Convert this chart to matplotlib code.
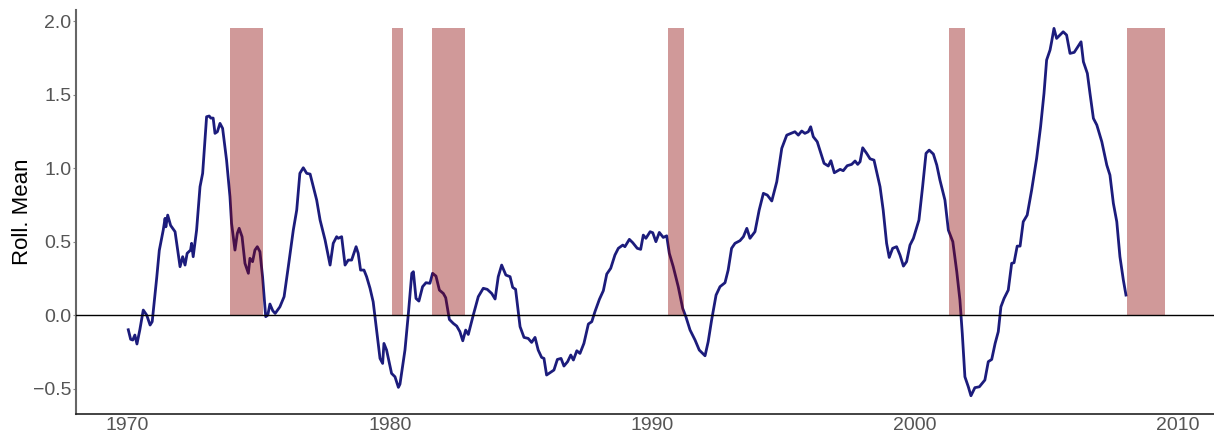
import numpy as np
import matplotlib
matplotlib.use("Agg")
from matplotlib import pyplot as plt

# rolling mean (decimal year, value)
years = [
    1970.05, 1970.14, 1970.22, 1970.30, 1970.38, 1970.49, 1970.62, 1970.75, 1970.88, 1970.96,
    1971.07, 1971.13, 1971.23, 1971.38, 1971.45, 1971.48, 1971.55, 1971.66, 1971.83, 1971.91,
    1972.02, 1972.12, 1972.21, 1972.29, 1972.42, 1972.46, 1972.52, 1972.65, 1972.78, 1972.88,
    1972.97, 1973.03, 1973.13, 1973.19, 1973.28, 1973.35, 1973.44, 1973.54, 1973.64, 1973.79,
    1973.92, 1973.98, 1974.11, 1974.20, 1974.27, 1974.38, 1974.49, 1974.62, 1974.68, 1974.78,
    1974.87, 1974.96, 1975.06, 1975.16, 1975.28, 1975.36, 1975.44, 1975.55, 1975.64, 1975.82,
    1975.98, 1976.14, 1976.33, 1976.46, 1976.58, 1976.71, 1976.84, 1976.97, 1977.09, 1977.22,
    1977.35, 1977.54, 1977.73, 1977.85, 1977.98, 1978.04, 1978.17, 1978.30, 1978.42, 1978.55,
    1978.72, 1978.80, 1978.89, 1979.02, 1979.12, 1979.25, 1979.37, 1979.50, 1979.63, 1979.73,
    1979.78, 1979.88, 1980.07, 1980.20, 1980.33, 1980.39, 1980.58, 1980.71, 1980.84, 1980.90,
    1981.00, 1981.11, 1981.25, 1981.38, 1981.53, 1981.63, 1981.76, 1981.89, 1982.04, 1982.13,
    1982.27, 1982.42, 1982.55, 1982.67, 1982.78, 1982.89, 1982.99, 1983.18, 1983.37, 1983.56,
    1983.71, 1983.88, 1984.01, 1984.13, 1984.26, 1984.42, 1984.58, 1984.68, 1984.79, 1984.96,
    1985.11, 1985.27, 1985.40, 1985.53, 1985.65, 1985.78, 1985.87, 1985.97, 1986.10, 1986.25,
    1986.38, 1986.52, 1986.63, 1986.77, 1986.89, 1986.99, 1987.12, 1987.24, 1987.39, 1987.56,
    1987.69, 1987.81, 1987.98, 1988.13, 1988.26, 1988.41, 1988.57, 1988.70, 1988.87, 1988.95,
    1989.12, 1989.25, 1989.42, 1989.55, 1989.65, 1989.75, 1989.91, 1990.01, 1990.13, 1990.26,
    1990.41, 1990.54, 1990.64, 1990.79, 1990.98, 1991.15, 1991.27, 1991.43, 1991.62, 1991.78,
    1992.00, 1992.12, 1992.25, 1992.42, 1992.57, 1992.76, 1992.88, 1993.01, 1993.14, 1993.33,
    1993.46, 1993.59, 1993.71, 1993.90, 1994.06, 1994.22, 1994.37, 1994.54, 1994.73, 1994.92,
    1995.11, 1995.42, 1995.55, 1995.68, 1995.80, 1995.93, 1996.02, 1996.12, 1996.27, 1996.53,
    1996.69, 1996.79, 1996.92, 1997.14, 1997.26, 1997.41, 1997.58, 1997.71, 1997.81, 1997.90,
    1998.00, 1998.15, 1998.28, 1998.43, 1998.66, 1998.78, 1998.91, 1999.01, 1999.14, 1999.29,
    1999.42, 1999.55, 1999.67, 1999.80, 1999.93, 2000.14, 2000.28, 2000.41, 2000.53, 2000.69,
    2000.82, 2000.94, 2001.13, 2001.26, 2001.43, 2001.58, 2001.70, 2001.79, 2001.89, 2002.02,
    2002.12, 2002.27, 2002.44, 2002.65, 2002.78, 2002.91, 2003.04, 2003.16, 2003.26, 2003.38,
    2003.54, 2003.67, 2003.76, 2003.88, 2003.99, 2004.11, 2004.26, 2004.43, 2004.62, 2004.77,
    2004.90, 2005.00, 2005.13, 2005.19, 2005.28, 2005.38, 2005.51, 2005.63, 2005.76, 2005.89,
    2006.05, 2006.31, 2006.40, 2006.55, 2006.65, 2006.78, 2006.91, 2007.10, 2007.29, 2007.41,
    2007.54, 2007.67, 2007.79, 2007.92, 2008.02,
]
roll_mean = [
    -0.100, -0.165, -0.170, -0.136, -0.197, -0.100, 0.034, 0.000, -0.068, -0.045,
    0.147, 0.250, 0.440, 0.578, 0.658, 0.600, 0.680, 0.610, 0.567, 0.465,
    0.329, 0.397, 0.340, 0.420, 0.442, 0.488, 0.397, 0.578, 0.873, 0.964,
    1.190, 1.349, 1.354, 1.340, 1.340, 1.236, 1.247, 1.304, 1.270, 1.054,
    0.805, 0.624, 0.442, 0.556, 0.590, 0.533, 0.352, 0.284, 0.386, 0.363,
    0.442, 0.465, 0.431, 0.261, -0.011, 0.000, 0.075, 0.029, 0.011, 0.056,
    0.125, 0.329, 0.578, 0.714, 0.964, 1.002, 0.964, 0.959, 0.873, 0.782,
    0.646, 0.510, 0.340, 0.488, 0.533, 0.522, 0.533, 0.340, 0.374, 0.374,
    0.465, 0.420, 0.306, 0.306, 0.261, 0.182, 0.090, -0.102, -0.295, -0.329,
    -0.193, -0.238, -0.397, -0.420, -0.492, -0.470, -0.238, 0.011, 0.284, 0.295,
    0.113, 0.095, 0.193, 0.220, 0.216, 0.284, 0.265, 0.170, 0.147, 0.118,
    -0.030, -0.057, -0.075, -0.113, -0.175, -0.102, -0.132, 0.000, 0.125, 0.182,
    0.175, 0.147, 0.109, 0.261, 0.340, 0.272, 0.261, 0.188, 0.175, -0.079,
    -0.152, -0.159, -0.186, -0.152, -0.238, -0.288, -0.295, -0.408, -0.392, -0.374,
    -0.302, -0.295, -0.347, -0.317, -0.272, -0.306, -0.243, -0.261, -0.193, -0.061,
    -0.045, 0.023, 0.107, 0.166, 0.279, 0.318, 0.408, 0.454, 0.476, 0.465,
    0.515, 0.492, 0.454, 0.447, 0.544, 0.522, 0.567, 0.560, 0.499, 0.562,
    0.528, 0.539, 0.420, 0.329, 0.193, 0.045, -0.011, -0.102, -0.170, -0.238,
    -0.277, -0.181, -0.034, 0.136, 0.193, 0.220, 0.306, 0.454, 0.488, 0.506,
    0.533, 0.590, 0.522, 0.567, 0.714, 0.828, 0.816, 0.776, 0.907, 1.134,
    1.224, 1.247, 1.224, 1.252, 1.236, 1.247, 1.281, 1.213, 1.179, 1.032,
    1.014, 1.050, 0.968, 0.991, 0.982, 1.016, 1.025, 1.048, 1.025, 1.043,
    1.138, 1.100, 1.063, 1.054, 0.873, 0.714, 0.488, 0.392, 0.454, 0.465,
    0.408, 0.333, 0.363, 0.476, 0.522, 0.646, 0.873, 1.100, 1.122, 1.095,
    1.020, 0.918, 0.782, 0.578, 0.499, 0.295, 0.102, -0.125, -0.420, -0.488,
    -0.549, -0.494, -0.488, -0.442, -0.317, -0.302, -0.193, -0.113, 0.056, 0.113,
    0.170, 0.352, 0.356, 0.469, 0.469, 0.635, 0.680, 0.850, 1.066, 1.281,
    1.508, 1.735, 1.803, 1.859, 1.950, 1.882, 1.905, 1.927, 1.905, 1.780,
    1.787, 1.859, 1.723, 1.644, 1.508, 1.338, 1.293, 1.179, 1.020, 0.952,
    0.760, 0.635, 0.397, 0.238, 0.136,
]

# recession periods (start, end)
rec_start = [1973.92, 1980.09, 1981.61, 1990.59, 2001.28, 2008.06]
rec_end = [1975.18, 1980.50, 1982.86, 1991.20, 2001.89, 2009.51]
rec_height = 1.95

plt.rcParams['font.family'] = ['Liberation Sans', 'DejaVu Sans']

fig = plt.figure(figsize=(12.14, 4.36), dpi=100)
ax = fig.add_axes([0.0626, 0.0505, 0.9374, 0.9265])

ax.plot(years, roll_mean, color='#1c1c7c', lw=2, zorder=2)
ax.bar(rec_start, rec_height, width=np.array(rec_end) - np.array(rec_start),
       bottom=0, align='edge', color='darkred', alpha=0.4, lw=0, zorder=3)
ax.axhline(0, color='black', lw=1, zorder=4)

ax.set_xlim(1968.06, 2011.37)
ax.set_ylim(-0.673, 2.075)
ax.set_xticks([1970, 1980, 1990, 2000, 2010])
ax.set_yticks([-0.5, 0.0, 0.5, 1.0, 1.5, 2.0])
ax.set_yticklabels(['\u22120.5', '0.0', '0.5', '1.0', '1.5', '2.0'])
ax.set_ylabel('Roll. Mean', fontsize=16, color='black', labelpad=0)

for s in ['top', 'right']:
    ax.spines[s].set_visible(False)
ax.spines['left'].set_color('#666666')
ax.spines['left'].set_linewidth(1.5)
ax.spines['bottom'].set_color('#222222')
ax.spines['bottom'].set_linewidth(1.2)
ax.tick_params(axis='both', labelsize=14, labelcolor='#555555', color='#888888', length=2)
ax.tick_params(axis='y', pad=1.5)
ax.tick_params(axis='x', length=0, pad=2)

plt.savefig('out.png', dpi=100)
